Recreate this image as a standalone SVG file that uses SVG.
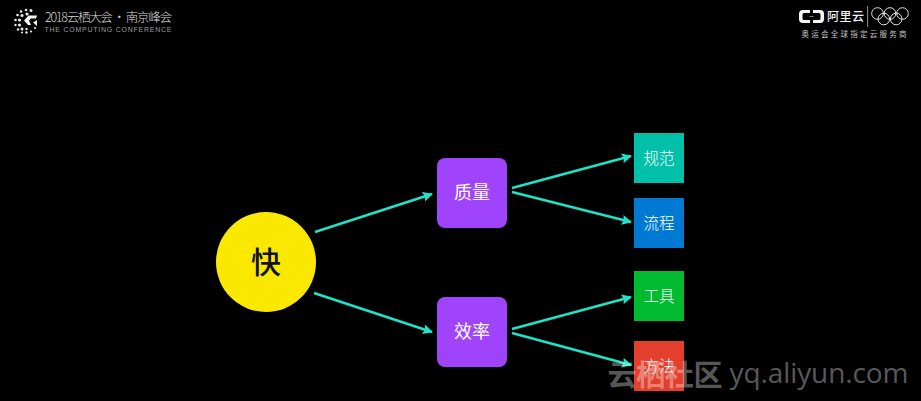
<svg xmlns="http://www.w3.org/2000/svg" width="921" height="401" viewBox="0 0 921 401">
  <style>
    text { font-family: "Noto Sans CJK SC", "Noto Sans", sans-serif; text-anchor: middle; }
    .label { fill: #fff; font-size: 15.5px; font-weight: 300; }
    .big { fill: #fff; font-size: 18px; font-weight: 400; }
    .edge { fill: none; stroke: #1fe2c8; stroke-width: 2.6; marker-end: url(#arrow); }
    .ring { fill: none; stroke: #e4e4e4; stroke-width: 1; }
    .dot { fill: #e8e8e8; }
    .wm { fill: #fff; fill-opacity: 0.36; }
  </style>
  <defs>
    <marker id="arrow" markerUnits="userSpaceOnUse" markerWidth="12" markerHeight="12" refX="9" refY="5" orient="auto">
      <path d="M0 0L10 5L0 10L1.5 5Z" fill="#1fe2c8"/>
    </marker>
  </defs>
  <rect width="921" height="401" fill="#000"/>

  <!-- conference mark, top left -->
  <g id="conference-logo">
    <g class="dot">
      <circle cx="26" cy="10" r="1.3"/><circle cx="31" cy="10.5" r="1.5"/><circle cx="21" cy="11.5" r="1.3"/>
      <circle cx="17.5" cy="15" r="1.3"/><circle cx="22" cy="15.5" r="1.6"/><circle cx="27" cy="14" r="1.6"/>
      <circle cx="15.5" cy="20" r="1.3"/><circle cx="19.5" cy="20" r="1.6"/><circle cx="15.5" cy="25" r="1.2"/>
      <circle cx="19.5" cy="25" r="1.6"/><circle cx="18" cy="29.5" r="1.2"/><circle cx="22" cy="29" r="1.5"/>
      <circle cx="22" cy="32.5" r="1.1"/><circle cx="26.5" cy="32.5" r="1.2"/><circle cx="26.5" cy="29" r="1.2"/>
      <circle cx="31" cy="31.5" r="1.1"/><circle cx="35" cy="28" r="1.1"/>
    </g>
    <path d="M37 15.5H28.5L24 20.5L28 25H31L29 20.5L31 18.5H36Z M37 20L33 22.5L37 26Z" fill="#f2f2f2"/>
    <text x="108.500" y="21.500" font-size="12.500" font-weight="300" fill="#d8d8d8" textLength="127">2018云栖大会 · 南京峰会</text>
    <text x="108" y="32" font-size="7" fill="#9c9c9c" textLength="127" style="font-family:'Liberation Sans',sans-serif">THE COMPUTING CONFERENCE</text>
  </g>

  <!-- sponsor mark, top right -->
  <g id="aliyun-logo">
    <path d="M810 10H803Q799 10 799 14V19Q799 23 803 23H810V20H804Q802.500 20 802.500 18.500V14.500Q802.500 13 804 13H810Z M813 10H820Q824 10 824 14V19Q824 23 820 23H813V20H819Q820.500 20 820.500 18.500V14.500Q820.500 13 819 13H813Z" fill="#f6f6f6"/>
    <rect x="809.500" y="16.200" width="4" height="0.8" fill="#999"/>
    <text x="845.500" y="21" font-size="12" font-weight="500" fill="#f0f0f0" textLength="37">阿里云</text>
    <rect x="867.300" y="6" width="0.8" height="21" fill="#bbb"/>
    <g class="ring">
      <circle cx="877.500" cy="13.500" r="5.800"/><circle cx="890" cy="13.500" r="5.800"/><circle cx="902.500" cy="13.500" r="5.800"/>
      <circle cx="883.800" cy="19" r="5.800"/><circle cx="896.200" cy="19" r="5.800"/>
    </g>
    <text x="854" y="36.500" font-size="7.500" fill="#c4c4c4" textLength="105">奥运会全球指定云服务商</text>
  </g>

  <!-- connectors -->
  <g id="connectors">
    <path class="edge" d="M315 232L432 194"/>
    <path class="edge" d="M314 293L432 332"/>
    <path class="edge" d="M512 188L631 156"/>
    <path class="edge" d="M512 192L631 222"/>
    <path class="edge" d="M512 329L631 297"/>
    <path class="edge" d="M512 333L631 365"/>
  </g>

  <g id="node-fast">
    <circle cx="266" cy="262" r="50" fill="#fbe800"/>
    <text x="266" y="273" font-size="30" font-weight="500" fill="#111">快</text>
  </g>
  <g id="node-quality">
    <rect x="437" y="158" width="70" height="70" rx="8" fill="#a043fd"/>
    <text class="big" x="472" y="199">质量</text>
  </g>
  <g id="node-efficiency">
    <rect x="437" y="297" width="70" height="70" rx="8" fill="#a043fd"/>
    <text class="big" x="472" y="338">效率</text>
  </g>
  <g id="node-standards">
    <rect x="634" y="133" width="50" height="50" fill="#00c0aa"/>
    <text class="label" x="659" y="163.500">规范</text>
  </g>
  <g id="node-process">
    <rect x="634" y="198" width="50" height="50" fill="#0079d2"/>
    <text class="label" x="659" y="228.500">流程</text>
  </g>
  <g id="node-tools">
    <rect x="634" y="271" width="50" height="50" fill="#00ba30"/>
    <text class="label" x="659" y="301.500">工具</text>
  </g>
  <g id="node-methods">
    <rect x="634" y="341" width="50" height="50" fill="#e23f2e"/>
    <text class="label" x="659" y="371.500">方法</text>
  </g>

  <!-- site mark, bottom right -->
  <g id="site-mark">
    <text class="wm" x="665" y="386" font-size="29" font-weight="700" textLength="115">云栖社区</text>
    <text class="wm" x="819" y="383" font-size="28" style="font-family:'Open Sans','Noto Sans',sans-serif" textLength="179">yq.aliyun.com</text>
  </g>
</svg>
